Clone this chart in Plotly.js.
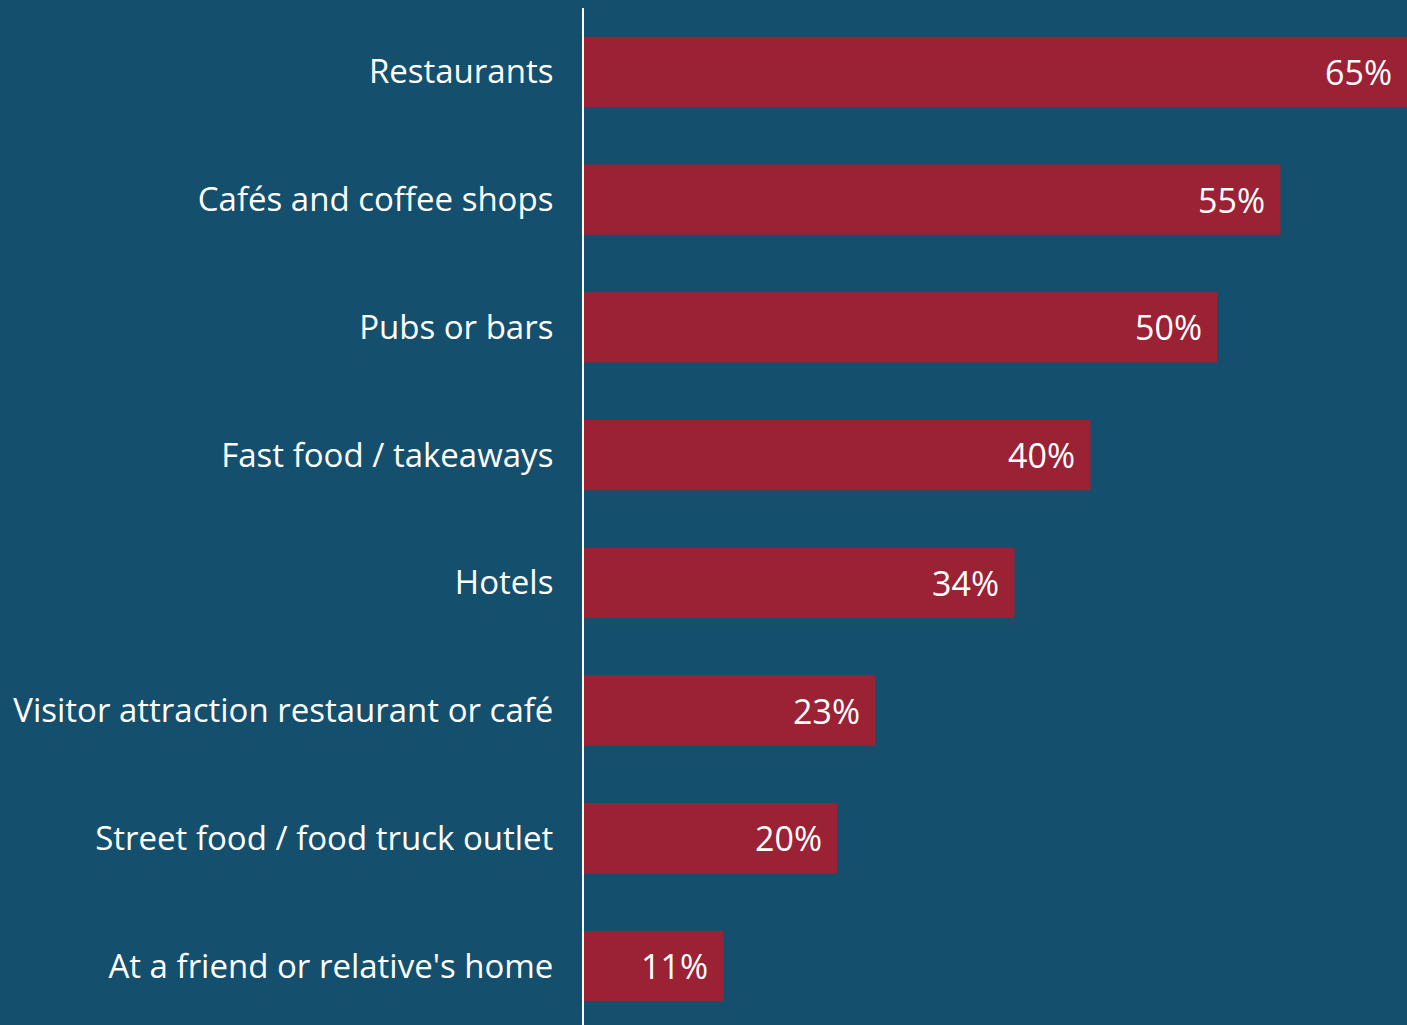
<!DOCTYPE html>
<html>
<head>
<meta charset="utf-8">
<script src="https://cdn.plot.ly/plotly-3.0.1.min.js"></script>
<style>
  html, body { margin: 0; padding: 0; background: #154F6E; overflow: hidden; }
  #chart { width: 1407px; height: 1030px; }
</style>
</head>
<body>
<div id="chart"></div>
<script>
const categories = [
  "Restaurants",
  "Cafés and coffee shops",
  "Pubs or bars",
  "Fast food / takeaways",
  "Hotels",
  "Visitor attraction restaurant or café",
  "Street food / food truck outlet",
  "At a friend or relative's home"
];
const values = [65, 55, 50, 40, 34, 23, 20, 11];
const valueLabels = values.map(v => v + "%");

const BG = "#154F6E";
const BAR = "#9B2235";
const FONT = "Open Sans, sans-serif";

const trace = {
  type: "bar",
  orientation: "h",
  x: values,
  y: categories,
  marker: { color: BAR, line: { width: 0 } },
  hoverinfo: "none"
};

const annotations = values.map((v, i) => ({
  x: v, y: categories[i], xref: "x", yref: "y",
  text: valueLabels[i], showarrow: false,
  xanchor: "right", yanchor: "middle", xshift: -13,
  font: { family: FONT, size: 34, color: "#ffffff" }
}));

const layout = {
  width: 1407, height: 1030,
  paper_bgcolor: BG, plot_bgcolor: BG,
  margin: { l: 584, r: 0, t: 8, b: 0 },
  bargap: 0.45,
  showlegend: false,
  xaxis: {
    range: [0, 65], showgrid: false, zeroline: false,
    showticklabels: false, ticks: "", fixedrange: true
  },
  yaxis: {
    autorange: "reversed", showgrid: false, zeroline: false,
    showline: true, linecolor: "#ffffff", linewidth: 2,
    ticks: "outside", ticklen: 22, tickcolor: "rgba(0,0,0,0)",
    tickfont: { family: FONT, size: 33, color: "#ffffff" },
    fixedrange: true
  },
  annotations: annotations
};

Plotly.newPlot("chart", [trace], layout, { displayModeBar: false, staticPlot: true });
</script>
</body>
</html>
